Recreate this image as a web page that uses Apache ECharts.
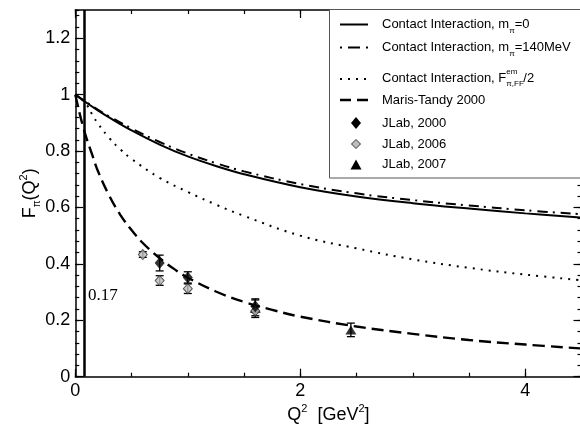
<!DOCTYPE html>
<html><head><meta charset="utf-8">
<script src="https://cdn.jsdelivr.net/npm/echarts@6/dist/echarts.min.js"></script>
<style>html,body{margin:0;padding:0;background:#fff}#c{width:580px;height:424px}</style>
</head><body><div id="c"></div>
<script>
// ---- data ----
const ciX = [0, 0.1, 0.2, 0.3, 0.5, 0.75, 1, 1.25, 1.5, 2, 2.5, 3, 3.5, 4, 4.5];
const ciM0 = [1.0, 0.971, 0.944, 0.919, 0.873, 0.823, 0.781, 0.747, 0.718, 0.672, 0.639, 0.615, 0.596, 0.579, 0.564];
const ciM140 = [1.0, 0.973, 0.947, 0.923, 0.88, 0.832, 0.791, 0.757, 0.728, 0.683, 0.65, 0.626, 0.607, 0.59, 0.576];
const halfX = [0, 0.05, 0.1, 0.15, 0.2, 0.3, 0.4, 0.5, 0.75, 1, 1.25, 1.5, 2, 2.5, 3, 3.5, 4, 4.5];
const ciHalf = [1.0, 0.985, 0.965, 0.93, 0.898, 0.847, 0.806, 0.772, 0.705, 0.655, 0.61, 0.57, 0.5, 0.455, 0.416, 0.386, 0.362, 0.342];
const mtX = [0, 0.05, 0.1, 0.15, 0.2, 0.3, 0.4, 0.5, 0.6, 0.75, 0.9, 1, 1.25, 1.5, 1.75, 2, 2.5, 3, 3.5, 4, 4.5];
const mt = [1.0, 0.915, 0.845, 0.787, 0.73, 0.643, 0.574, 0.52, 0.474, 0.42, 0.376, 0.351, 0.302, 0.265, 0.237, 0.213, 0.178, 0.152, 0.13, 0.114, 0.10];
const j2000X = [0.75, 1.0, 1.6];
const j2000Y = [0.403, 0.352, 0.25];
const j2000E = [0.028, 0.02, 0.022];
const j2006X = [0.6, 0.75, 1.0, 1.6];
const j2006Y = [0.433, 0.341, 0.312, 0.233];
const j2006E = [0.01, 0.017, 0.017, 0.017];
const j2007X = [1.6, 2.45];
const j2007Y = [0.243, 0.166];
const j2007E = [0.033, 0.024];
const markerX = 0.08;
const markerLabel = '0.17';
const xTicksMajor = 2, xTicksMinor = 0.5, yTicksMajor = 0.2, yTicksMinor = 0.04;
const legendNames = ['Contact Interaction, m', 'Contact Interaction, m', 'Contact Interaction, F', 'Maris-Tandy 2000', 'JLab, 2000', 'JLab, 2006', 'JLab, 2007'];

// ---- chart ----
const FONT = 'Liberation Sans, Arial, Helvetica, sans-serif';
const pairs = (xs, ys) => xs.map((x, i) => [x, ys[i]]);
function errBars(xs, ys, es, name) {
  return {
    type: 'custom', name: name, xAxisIndex: 0, yAxisIndex: 0, z: 3, silent: true,
    renderItem: function (params, api) {
      const x = api.value(0), lo = api.value(1), hi = api.value(2);
      const p1 = api.coord([x, lo]), p2 = api.coord([x, hi]);
      const st = { stroke: '#000', lineWidth: 1.3 };
      const cap = 4;
      return { type: 'group', children: [
        { type: 'line', shape: { x1: p1[0], y1: p1[1], x2: p2[0], y2: p2[1] }, style: st },
        { type: 'line', shape: { x1: p1[0] - cap, y1: p1[1], x2: p1[0] + cap, y2: p1[1] }, style: st },
        { type: 'line', shape: { x1: p2[0] - cap, y1: p2[1], x2: p2[0] + cap, y2: p2[1] }, style: st }
      ] };
    },
    data: xs.map((x, i) => [x, ys[i] - es[i], ys[i] + es[i]])
  };
}
function axisX(pos, interval, len, showLine, showLabel) {
  return {
    type: 'value', position: pos, min: 0, max: 4.5, interval: interval,
    axisLine: { show: showLine, onZero: false, lineStyle: { color: '#000', width: 1.5 } },
    axisTick: { show: true, inside: true, length: len, lineStyle: { color: '#000', width: 1.2 } },
    axisLabel: { show: showLabel, color: '#000', fontSize: 18, fontFamily: FONT, margin: 5, showMaxLabel: false },
    splitLine: { show: false }
  };
}
function axisY(pos, interval, len, showLine, showLabel) {
  return {
    type: 'value', position: pos, min: 0, max: 1.3, interval: interval,
    axisLine: { show: showLine, onZero: false, lineStyle: { color: '#000', width: 1.5 } },
    axisTick: { show: true, inside: true, length: len, lineStyle: { color: '#000', width: 1.2 } },
    axisLabel: { show: showLabel, color: '#000', fontSize: 18, fontFamily: FONT, margin: 5, showMaxLabel: false },
    splitLine: { show: false }
  };
}
const xMain = axisX('bottom', xTicksMajor, 8, true, true);
xMain.name = '{t|Q}{sup|2}{t|  [GeV}{sup|2}{t|]}';
xMain.nameLocation = 'middle';
xMain.nameGap = 27;
xMain.nameMoveOverlap = false;
xMain.nameTextStyle = { color: '#000', rich: {
  t: { fontSize: 18, lineHeight: 22, fontFamily: FONT, color: '#000' },
  sup: { fontSize: 11, lineHeight: 10, verticalAlign: 'top', fontFamily: FONT, color: '#000' } } };
const yMain = axisY('left', yTicksMajor, 8, true, true);
yMain.name = '{t|F}{sub|π}{t|(Q}{sup|2}{t|)}';
yMain.nameLocation = 'middle';
yMain.nameGap = 33;
yMain.nameMoveOverlap = false;
yMain.nameTextStyle = { color: '#000', rich: {
  t: { fontSize: 18, lineHeight: 24, fontFamily: FONT, color: '#000' },
  sub: { fontSize: 10, lineHeight: 10, verticalAlign: 'bottom', fontFamily: FONT, color: '#000' },
  sup: { fontSize: 11, lineHeight: 10, verticalAlign: 'top', fontFamily: FONT, color: '#000' } } };

const tStyle = { fontSize: 13, lineHeight: 20, fontFamily: FONT, fill: '#000' };
const subStyle = { fontSize: 8, lineHeight: 8, verticalAlign: 'bottom', fontFamily: FONT, fill: '#000' };
const supStyle = { fontSize: 8, lineHeight: 8, verticalAlign: 'top', fontFamily: FONT, fill: '#000' };
const rowY = [24.5, 47.5, 78, 100, 123, 144, 164.5];
const LX0 = 340, LX1 = 368, LM = 356, LT = 382;
function ltext(y, text, rich) {
  return { type: 'text', z: 12, x: LT, y: y, style: { text: text, rich: rich, verticalAlign: 'middle', align: 'left', fill: '#000', font: '13px ' + FONT } };
}
function lline(y, dash, w) {
  return { type: 'line', z: 12, shape: { x1: LX0, y1: y, x2: LX1, y2: y }, style: { stroke: '#000', lineWidth: w, lineDash: dash } };
}
const R = { t: tStyle, sub: subStyle, sup: supStyle, supw: Object.assign({}, supStyle, { width: 17 }), h: Object.assign({}, tStyle, { fill: 'rgba(0,0,0,0)' }) };

const graphic = [
  { type: 'rect', z: 10, shape: { x: 329.5, y: 9.5, width: 260, height: 168.5 }, style: { fill: '#fff', stroke: '#555', lineWidth: 1 } },
  lline(rowY[0], null, 2),
  lline(rowY[1], [2, 6, 12, 6], 2),
  lline(rowY[2] + 1, [2, 6], 2),
  lline(rowY[3], [11, 6], 2.5),
  { type: 'polygon', z: 12, shape: { points: [[LM, rowY[4] - 6], [LM + 5, rowY[4]], [LM, rowY[4] + 6], [LM - 5, rowY[4]]] }, style: { fill: '#000' } },
  { type: 'polygon', z: 12, shape: { points: [[LM, rowY[5] - 4.5], [LM + 4.5, rowY[5]], [LM, rowY[5] + 4.5], [LM - 4.5, rowY[5]]] }, style: { fill: '#bdbdbd', stroke: '#333', lineWidth: 1 } },
  { type: 'polygon', z: 12, shape: { points: [[LM, rowY[6] - 5], [LM + 5.5, rowY[6] + 5], [LM - 5.5, rowY[6] + 5]] }, style: { fill: '#000' } },
  ltext(rowY[0], '{t|' + legendNames[0] + '}{sub|π}{t|=0}', R),
  ltext(rowY[1], '{t|' + legendNames[1] + '}{sub|π}{t|=140MeV}', R),
  ltext(rowY[2], '{t|' + legendNames[2] + '}{supw|em}{t|/2}', R),
  ltext(rowY[2], '{h|' + legendNames[2] + '}{sub|π,FF}', R),
  ltext(rowY[3], '{t|' + legendNames[3] + '}', R),
  ltext(rowY[4], '{t|' + legendNames[4] + '}', R),
  ltext(rowY[5], '{t|' + legendNames[5] + '}', R),
  ltext(rowY[6], '{t|' + legendNames[6] + '}', R),
  { type: 'text', z: 12, x: 88, y: 296, style: { text: markerLabel, verticalAlign: 'middle', align: 'left', fill: '#000', font: '17px Liberation Serif, Times New Roman, serif' } }
];

const lineBase = { type: 'line', showSymbol: false, smooth: 0.4, z: 2, xAxisIndex: 0, yAxisIndex: 0 };
const option = {
  animation: false,
  backgroundColor: '#fff',
  grid: { left: 75.3, top: 10, width: 506.2, height: 366.7, containLabel: false, outerBoundsMode: 'none' },
  xAxis: [xMain, axisX('bottom', xTicksMinor, 4, false, false), axisX('top', xTicksMajor, 8, true, false), axisX('top', xTicksMinor, 4, false, false)],
  yAxis: [yMain, axisY('left', yTicksMinor, 4, false, false), axisY('right', yTicksMajor, 8, true, false), axisY('right', yTicksMinor, 4, false, false)],
  graphic: graphic,
  series: [
    Object.assign({}, lineBase, { name: 'CI m0', data: pairs(ciX, ciM0), lineStyle: { color: '#000', width: 2 },
      markLine: { silent: true, symbol: 'none', label: { show: false }, lineStyle: { color: '#000', width: 2.5, type: 'solid' }, data: [{ xAxis: markerX }] } }),
    Object.assign({}, lineBase, { name: 'CI m140', data: pairs(ciX, ciM140), lineStyle: { color: '#000', width: 2, type: [10, 5, 2, 6] } }),
    Object.assign({}, lineBase, { name: 'CI half', data: pairs(halfX, ciHalf), lineStyle: { color: '#000', width: 2, type: [2, 6] } }),
    Object.assign({}, lineBase, { name: 'MT', data: pairs(mtX, mt), lineStyle: { color: '#000', width: 2.4, type: [12, 6] } }),
    errBars(j2006X, j2006Y, j2006E, 'e2006'),
    errBars(j2007X, j2007Y, j2007E, 'e2007'),
    errBars(j2000X, j2000Y, j2000E, 'e2000'),
    { type: 'scatter', name: 'JLab 2007', data: pairs(j2007X, j2007Y), symbol: 'triangle', symbolSize: [11, 9], itemStyle: { color: '#000' }, z: 4 },
    { type: 'scatter', name: 'JLab 2006', data: pairs(j2006X, j2006Y), symbol: 'diamond', symbolSize: [9, 10], itemStyle: { color: '#bdbdbd', borderColor: '#333', borderWidth: 1 }, z: 5 },
    { type: 'scatter', name: 'JLab 2000', data: pairs(j2000X, j2000Y), symbol: 'diamond', symbolSize: [10, 12], itemStyle: { color: '#000' }, z: 6 }
  ]
};
const chart = echarts.init(document.getElementById('c'), null, { renderer: 'canvas' });
chart.setOption(option);
</script></body></html>
